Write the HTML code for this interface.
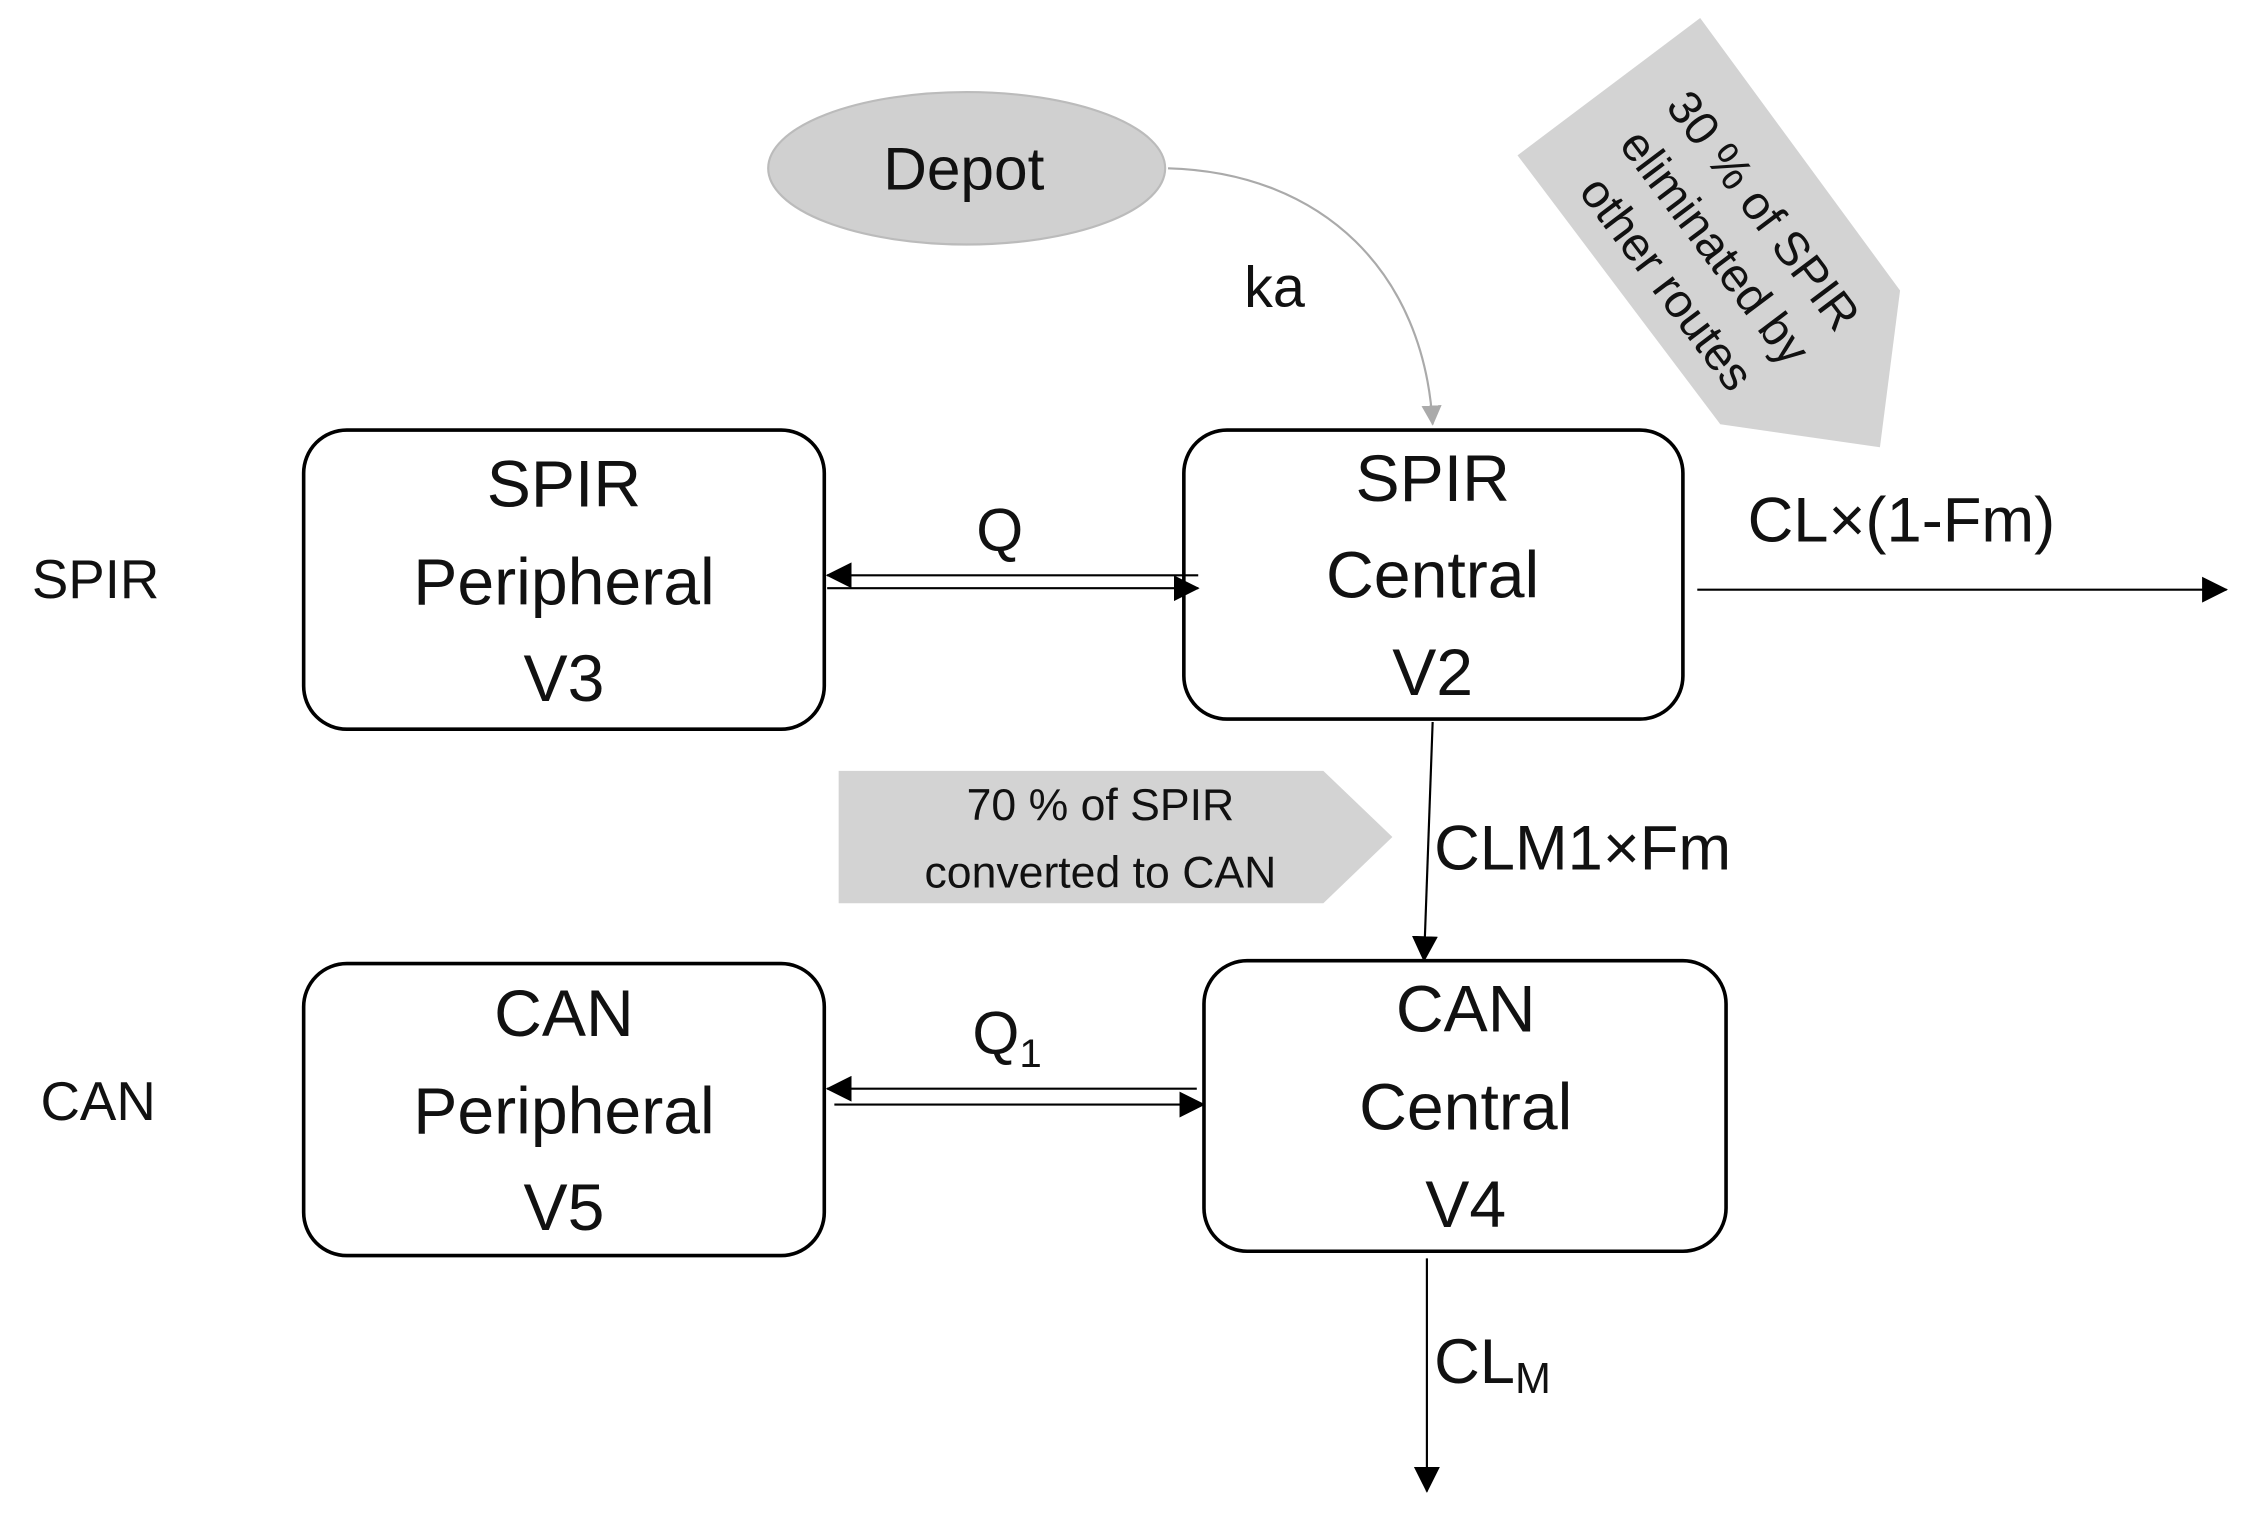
<!DOCTYPE html>
<html><head><meta charset="utf-8"><style>
html,body{margin:0;padding:0;background:#fff;}
svg{display:block;}
text{font-family:"Liberation Sans",sans-serif;fill:#111;}
</style></head><body>
<svg width="2244" height="1513" viewBox="0 0 1560 1052" xmlns="http://www.w3.org/2000/svg">
<defs>
<marker id="ab2" markerWidth="18" markerHeight="18" refX="17" refY="9" orient="auto" markerUnits="userSpaceOnUse"><path d="M0,0 L18,9 L0,18 Z" fill="#000"/></marker>
<marker id="ag" markerWidth="14" markerHeight="14" refX="13" refY="7" orient="auto" markerUnits="userSpaceOnUse"><path d="M0,0 L14,7 L0,14 Z" fill="#aaa"/></marker>
</defs>
<ellipse cx="672" cy="117" rx="138" ry="53" fill="#d0d0d0" stroke="#bbb" stroke-width="1.5"/>
<text x="670" y="117" font-size="42" text-anchor="middle" dominant-baseline="central">Depot</text>
<path d="M812,117 C920,120 990,190 996,295" fill="none" stroke="#aaa" stroke-width="1.5" marker-end="url(#ag)"/>
<text x="886" y="200" font-size="40" text-anchor="middle" dominant-baseline="central">ka</text>
<polygon points="1182,12.5 1055,108 1196,295 1307,311 1321,202" fill="#d3d3d3"/>
<g transform="translate(1192,172) rotate(53)" font-size="33">
<text x="0" y="-42" text-anchor="middle" dominant-baseline="central">30 % of SPIR</text>
<text x="0" y="0" text-anchor="middle" dominant-baseline="central">eliminated by</text>
<text x="0" y="42" text-anchor="middle" dominant-baseline="central">other routes</text>
</g>
<g fill="#fff" stroke="#000" stroke-width="2.5">
<rect x="211" y="299" width="362" height="208" rx="30"/>
<rect x="823" y="299" width="347" height="201" rx="30"/>
<rect x="211" y="670" width="362" height="203" rx="30"/>
<rect x="837" y="668" width="363" height="202" rx="30"/>
</g>
<g font-size="46" text-anchor="middle" dominant-baseline="central">
<text x="392" y="337">SPIR</text><text x="392" y="405">Peripheral</text><text x="392" y="472">V3</text>
<text x="996" y="333">SPIR</text><text x="996" y="400">Central</text><text x="996" y="468">V2</text>
<text x="392" y="705">CAN</text><text x="392" y="773">Peripheral</text><text x="392" y="840">V5</text>
<text x="1019" y="702">CAN</text><text x="1019" y="770">Central</text><text x="1019" y="838">V4</text>
</g>
<text x="22" y="403" font-size="38" dominant-baseline="central">SPIR</text>
<text x="28" y="766" font-size="38" dominant-baseline="central">CAN</text>
<g stroke="#000" stroke-width="1.5" fill="none">
<line x1="833" y1="400" x2="575" y2="400" marker-end="url(#ab2)"/>
<line x1="575" y1="409" x2="833" y2="409" marker-end="url(#ab2)"/>
<line x1="832" y1="757" x2="575" y2="757" marker-end="url(#ab2)"/>
<line x1="580" y1="768" x2="837" y2="768" marker-end="url(#ab2)"/>
<line x1="1180" y1="410" x2="1548" y2="410" marker-end="url(#ab2)"/>
<line x1="996" y1="502" x2="990" y2="668" marker-end="url(#ab2)"/>
<line x1="992" y1="875" x2="992" y2="1037" marker-end="url(#ab2)"/>
</g>
<text x="695" y="368" font-size="42" text-anchor="middle" dominant-baseline="central">Q</text>
<text x="676" y="718" font-size="42" dominant-baseline="central">Q<tspan font-size="28" dy="14">1</tspan></text>
<text x="1215" y="362" font-size="44" dominant-baseline="central">CL×(1-Fm)</text>
<polygon points="583,536 920,536 968,582 920,628 583,628" fill="#d3d3d3"/>
<text x="765" y="560" font-size="31" text-anchor="middle" dominant-baseline="central">70 % of SPIR</text>
<text x="765" y="607" font-size="31" text-anchor="middle" dominant-baseline="central">converted to CAN</text>
<text x="997" y="590" font-size="44" dominant-baseline="central">CLM1×Fm</text>
<text x="997" y="947" font-size="44" dominant-baseline="central">CL<tspan font-size="30" dy="12">M</tspan></text>
</svg>
</body></html>
